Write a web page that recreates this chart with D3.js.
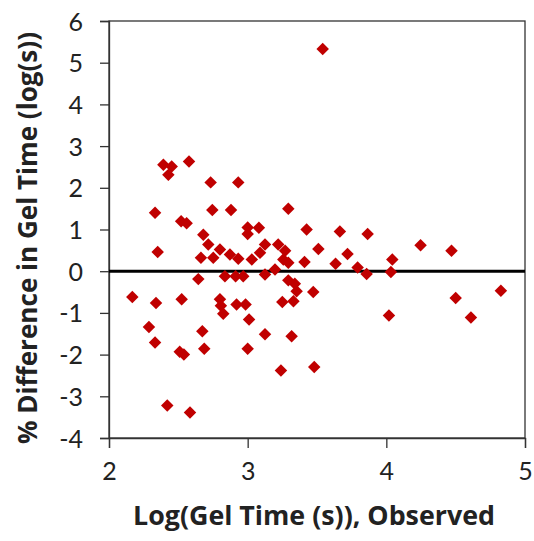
<!DOCTYPE html>
<html><head><meta charset="utf-8">
<script src="https://cdn.jsdelivr.net/npm/d3@7"></script>
<style>body{margin:0;background:#fff}svg{display:block}</style>
</head><body>
<svg id="chart" width="534" height="541"></svg>
<script>
const xTicks = [2, 3, 4, 5];
const yTicks = [-4, -3, -2, -1, 0, 1, 2, 3, 4, 5, 6];
const xLabel = "Log(Gel Time (s)), Observed";
const yLabel = "% Difference in Gel Time (log(s))";
const logObserved = [
  2.168, 2.288, 2.332, 2.332, 2.339, 2.351, 2.392, 2.452, 2.428, 2.42,
  2.52, 2.56, 2.51, 2.54, 2.524, 2.577, 2.584, 2.644, 2.663, 2.673,
  2.68, 2.687, 2.716, 2.733, 2.745, 2.752, 2.80, 2.80, 2.807, 2.824,
  2.836, 2.872, 2.88, 2.913, 2.92, 2.932, 2.932, 2.968, 2.985, 3.0,
  3.0, 3.0, 3.01, 3.03, 3.081, 3.089, 3.125, 3.125, 3.125, 3.197,
  3.22, 3.24, 3.25, 3.257, 3.27, 3.293, 3.293, 3.293, 3.34, 3.33,
  3.317, 3.353, 3.41, 3.425, 3.473, 3.48, 3.51, 3.541, 3.634, 3.665,
  3.72, 3.793, 3.858, 3.865, 4.019, 4.033, 4.043, 4.247, 4.47, 4.50,
  4.61, 4.826
];
const pctDifference = [
  -0.62, -1.34, 1.40, -1.71, -0.76, 0.46, 2.55, 2.51, 2.31, -3.22,
  1.20, 1.15, -1.93, -2.00, -0.67, 2.63, -3.39, -0.19, 0.32, -1.44,
  0.875, -1.86, 0.64, 2.13, 1.47, 0.32, 0.52, -0.67, -0.83, -1.02,
  -0.12, 0.40, 1.47, -0.12, -0.80, 2.13, 0.30, -0.12, -0.80, 1.05,
  0.89, -1.86, -1.16, 0.28, 1.04, 0.44, 0.64, -0.08, -1.51, 0.04,
  0.64, -2.38, -0.74, 0.28, 0.49, 1.50, 0.20, -0.22, -0.30, -0.72,
  -1.56, -0.48, 0.22, 1.00, -0.50, -2.30, 0.53, 5.33, 0.18, 0.95,
  0.41, 0.09, -0.07, 0.89, -1.06, -0.02, 0.28, 0.62, 0.49, -0.64,
  -1.11, -0.47
];

const svg = d3.select("#chart");
const L = 109, R = 525, T = 21, B = 438;
const x = d3.scaleLinear().domain([2, 5]).range([L, R]);
const y = d3.scaleLinear().domain([-4, 6]).range([B, T]);
const font = "Lato, 'Open Sans', sans-serif";
const titleFont = "'Open Sans', Lato, sans-serif";

// frame
svg.append("rect").attr("x", L).attr("y", T).attr("width", R - L).attr("height", B - T)
  .attr("fill", "none").attr("stroke", "#333").attr("stroke-width", 1.3);

const xAxis = svg.append("g").attr("transform", `translate(0,${B})`)
  .call(d3.axisBottom(x).tickValues(xTicks).tickSize(10).tickPadding(14).tickFormat(d => String(d)));
const yAxis = svg.append("g").attr("transform", `translate(${L},0)`)
  .call(d3.axisLeft(y).tickValues(yTicks).tickSize(9).tickPadding(17).tickFormat(d => String(d)));
[xAxis, yAxis].forEach(g => {
  g.select(".domain").attr("stroke", "#333").attr("stroke-width", 1.3);
  g.selectAll(".tick line").attr("stroke", "#333").attr("stroke-width", 1.3);
  g.selectAll(".tick text").attr("fill", "#222").style("font-family", font).style("font-size", "25px");
});
yAxis.selectAll(".tick text").attr("dy", "0.36em");

// zero line
svg.append("line").attr("x1", L).attr("x2", R).attr("y1", y(0)).attr("y2", y(0))
  .attr("stroke", "#000").attr("stroke-width", 3);

// points
const pts = logObserved.map((v, i) => ({x: v, y: pctDifference[i]}));
const sym = d3.symbol().type(d3.symbolSquare).size(78);
svg.append("g").selectAll("path").data(pts).join("path")
  .attr("d", sym)
  .attr("transform", d => `translate(${x(d.x)},${y(d.y)}) rotate(45)`)
  .attr("fill", "#C00000");

// titles, sized to the reference's text length
function fit(sel, target) {
  const w = sel.node().getComputedTextLength();
  const fs = parseFloat(sel.style("font-size"));
  sel.style("font-size", (fs * target / w).toFixed(2) + "px");
}
const xt = svg.append("text").attr("x", 314).attr("y", 525).attr("text-anchor", "middle")
  .style("font-family", titleFont).style("font-weight", "bold").style("font-size", "21px")
  .attr("fill", "#222").text(xLabel);
fit(xt, 362);
const yt = svg.append("text").attr("transform", "translate(37,238) rotate(-90)").attr("text-anchor", "middle")
  .style("font-family", titleFont).style("font-weight", "bold").style("font-size", "21px")
  .attr("fill", "#222").text(yLabel);
fit(yt, 412);
</script>
</body></html>
